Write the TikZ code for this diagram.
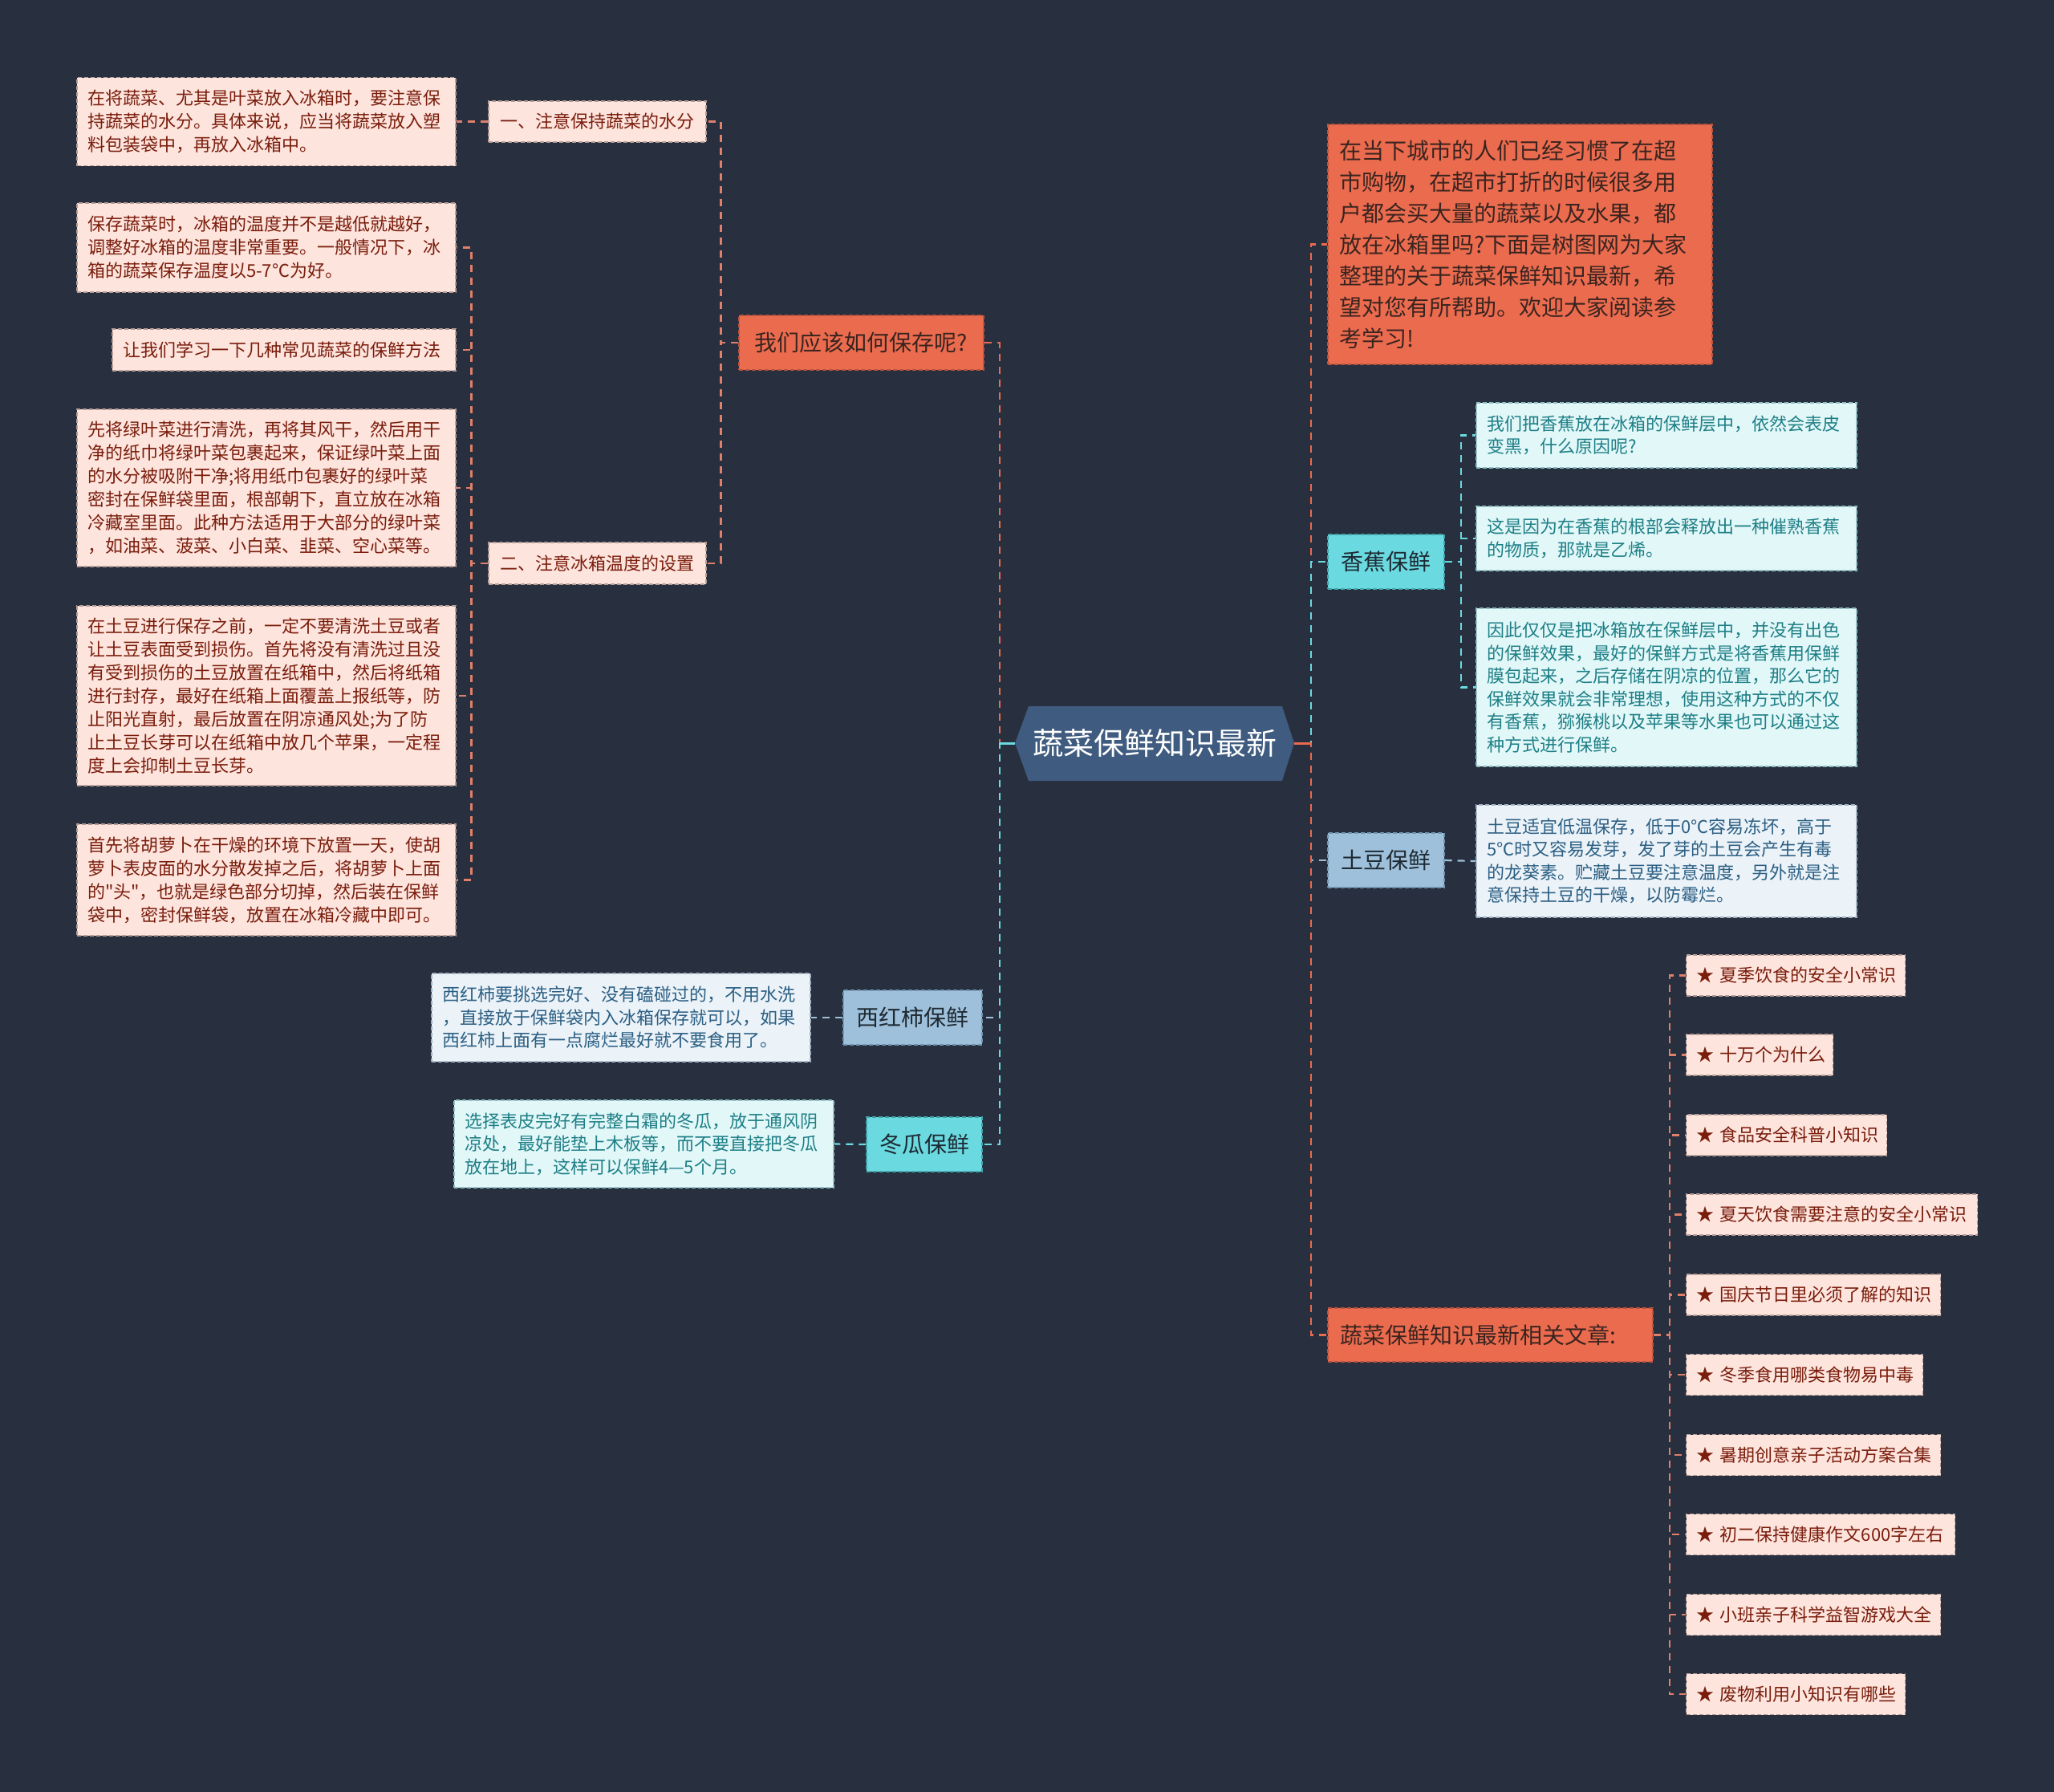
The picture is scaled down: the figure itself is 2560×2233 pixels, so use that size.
\documentclass[tikz,border=0pt]{standalone}
\usepackage{fontspec}
\setmainfont{Noto Sans CJK SC}[Ligatures=TeXOff]
\definecolor{bg}{HTML}{282F3E}
\definecolor{ctrfill}{HTML}{3F5B7F}
\definecolor{orng}{HTML}{EB6B4E}
\definecolor{orngb}{HTML}{B9533D}
\definecolor{cyn}{HTML}{6BD9E0}
\definecolor{cynb}{HTML}{3FA3A9}
\definecolor{lblu}{HTML}{9EC0DA}
\definecolor{lblub}{HTML}{6F93B0}
\definecolor{pink}{HTML}{FDE4DD}
\definecolor{pinkb}{HTML}{B59C96}
\definecolor{pinktx}{HTML}{7A1D0C}
\definecolor{lcyn}{HTML}{E1F7F8}
\definecolor{lcynb}{HTML}{8FBFC3}
\definecolor{lcyntx}{HTML}{1E7F86}
\definecolor{lbl}{HTML}{EBF2F8}
\definecolor{lblb}{HTML}{9FB3C4}
\definecolor{lbltx}{HTML}{2B5F83}
\definecolor{darktx}{HTML}{3A2420}
\definecolor{darkbl}{HTML}{1E2A33}
\definecolor{consal}{HTML}{E07F6A}
\tikzset{
  box/.style={draw, dash pattern=on 5pt off 3pt, line width=1.2pt, inner sep=0pt, align=center},
  tbox/.style={box, align=left, inner xsep=13pt, inner ysep=0pt},
  pinkbox/.style={tbox, fill=pink, draw=pinkb, text=pinktx, font=\fontsize{22}{29}\selectfont},
  pinklbl/.style={box, fill=pink, draw=pinkb, text=pinktx, font=\fontsize{22}{29}\selectfont},
  cynbox/.style={tbox, fill=lcyn, draw=lcynb, text=lcyntx, font=\fontsize{22}{28.5}\selectfont},
  lblbox/.style={tbox, fill=lbl, draw=lblb, text=lbltx, font=\fontsize{22}{28.5}\selectfont},
  orlvl/.style={box, fill=orng, draw=orngb, text=darktx, font=\fontsize{28}{34}\selectfont},
  cylvl/.style={box, fill=cyn, draw=cynb, text=darkbl, font=\fontsize{28}{34}\selectfont},
  bllvl/.style={box, fill=lblu, draw=lblub, text=darkbl, font=\fontsize{28}{34}\selectfont},
  item/.style={tbox, anchor=west, fill=pink, draw=pinkb, text=pinktx, minimum height=51, font=\fontsize{22}{29}\selectfont},
  con/.style={line width=2.2pt, dash pattern=on 9pt off 7pt},
  conO/.style={con, draw=orng},
  conC/.style={con, draw=cyn},
  conB/.style={con, draw=lblu},
  conS/.style={con, draw=consal},
}
\begin{document}
\begin{tikzpicture}[x=1pt,y=-1pt]
\fill[bg] (0,0) rectangle (2560,2233);
\useasboundingbox (0,0) rectangle (2560,2233);

% center
\fill[ctrfill] (1265,926) -- (1282,880) -- (1598,880) -- (1613,926) -- (1598,973) -- (1282,973) -- cycle;
\node[inner sep=0pt, minimum width=348, minimum height=93, text=white, font=\fontsize{38}{44}\selectfont] (ctr) at (1439,926.5) {蔬菜保鲜知识最新};

% left level 1
\node[orlvl, minimum width=305, minimum height=68] (wm) at (1073.5,427) {我们应该如何保存呢?};
\node[bllvl, minimum width=173, minimum height=68] (xh) at (1137.5,1268) {西红柿保鲜};
\node[cylvl, minimum width=144, minimum height=68] (dg) at (1152,1426) {冬瓜保鲜};

% left level 2
\node[pinklbl, minimum width=271, minimum height=51] (n1) at (744.5,151.5) {一、注意保持蔬菜的水分};
\node[pinklbl, minimum width=271, minimum height=52] (n2) at (744.5,702) {二、注意冰箱温度的设置};

% left leaves
\node[pinkbox, text width=446, minimum height=110] (b1) at (332,151.5) {在将蔬菜、尤其是叶菜放入冰箱时，要注意保\\持蔬菜的水分。具体来说，应当将蔬菜放入塑\\料包装袋中，再放入冰箱中。};
\node[pinkbox, text width=446, minimum height=111] (b2) at (332,308.5) {保存蔬菜时，冰箱的温度并不是越低就越好，\\调整好冰箱的温度非常重要。一般情况下，冰\\箱的蔬菜保存温度以5-7℃为好。};
\node[pinkbox, text width=402, minimum height=52] (b3) at (354,436) {让我们学习一下几种常见蔬菜的保鲜方法};
\node[pinkbox, text width=446, minimum height=196] (b4) at (332,608) {先将绿叶菜进行清洗，再将其风干，然后用干\\净的纸巾将绿叶菜包裹起来，保证绿叶菜上面\\的水分被吸附干净;将用纸巾包裹好的绿叶菜\\密封在保鲜袋里面，根部朝下，直立放在冰箱\\冷藏室里面。此种方法适用于大部分的绿叶菜\\，如油菜、菠菜、小白菜、韭菜、空心菜等。};
\node[pinkbox, text width=446, minimum height=224] (b5) at (332,867) {在土豆进行保存之前，一定不要清洗土豆或者\\让土豆表面受到损伤。首先将没有清洗过且没\\有受到损伤的土豆放置在纸箱中，然后将纸箱\\进行封存，最好在纸箱上面覆盖上报纸等，防\\止阳光直射，最后放置在阴凉通风处;为了防\\止土豆长芽可以在纸箱中放几个苹果，一定程\\度上会抑制土豆长芽。};
\node[pinkbox, text width=446, minimum height=139] (b6) at (332,1096.5) {首先将胡萝卜在干燥的环境下放置一天，使胡\\萝卜表皮面的水分散发掉之后，将胡萝卜上面\\的"头"，也就是绿色部分切掉，然后装在保鲜\\袋中，密封保鲜袋，放置在冰箱冷藏中即可。};
\node[lblbox, text width=446, minimum height=110] (xt) at (774,1268) {西红柿要挑选完好、没有磕碰过的，不用水洗\\，直接放于保鲜袋内入冰箱保存就可以，如果\\西红柿上面有一点腐烂最好就不要食用了。};
\node[cynbox, text width=447, minimum height=109] (dt) at (802.5,1425.5) {选择表皮完好有完整白霜的冬瓜，放于通风阴\\凉处，最好能垫上木板等，而不要直接把冬瓜\\放在地上，这样可以保鲜4—5个月。};

% right level 1
\node[tbox, fill=orng, draw=orngb, text=darktx, inner xsep=14pt, text width=451, minimum height=299, font=\fontsize{28}{39}\selectfont] (intro) at (1894.5,304.5) {在当下城市的人们已经习惯了在超\\市购物，在超市打折的时候很多用\\户都会买大量的蔬菜以及水果，都\\放在冰箱里吗?下面是树图网为大家\\整理的关于蔬菜保鲜知识最新，希\\望对您有所帮助。欢迎大家阅读参\\考学习!};
\node[cylvl, minimum width=145, minimum height=68] (xj) at (1727.5,700) {香蕉保鲜};
\node[bllvl, minimum width=145, minimum height=68] (td) at (1727.5,1072) {土豆保鲜};
\node[orlvl, align=left, inner xsep=15pt, text width=375, minimum height=67] (rel) at (1857.5,1663.5) {蔬菜保鲜知识最新相关文章:};

% right leaves
\node[cynbox, text width=448, minimum height=81] (j1) at (2077,542.5) {我们把香蕉放在冰箱的保鲜层中，依然会表皮\\变黑，什么原因呢?};
\node[cynbox, text width=448, minimum height=80] (j2) at (2077,671) {这是因为在香蕉的根部会释放出一种催熟香蕉\\的物质，那就是乙烯。};
\node[cynbox, text width=448, minimum height=197] (j3) at (2077,856.5) {因此仅仅是把冰箱放在保鲜层中，并没有出色\\的保鲜效果，最好的保鲜方式是将香蕉用保鲜\\膜包起来，之后存储在阴凉的位置，那么它的\\保鲜效果就会非常理想，使用这种方式的不仅\\有香蕉，猕猴桃以及苹果等水果也可以通过这\\种方式进行保鲜。};
\node[lblbox, text width=448, minimum height=140] (tt) at (2077,1073) {土豆适宜低温保存，低于0℃容易冻坏，高于\\5℃时又容易发芽，发了芽的土豆会产生有毒\\的龙葵素。贮藏土豆要注意温度，另外就是注\\意保持土豆的干燥，以防霉烂。};

\node[item, text width=247] (r1) at (2101,1215.5) {★~夏季饮食的安全小常识};
\node[item, text width=157] (r2) at (2101,1314.5) {★~十万个为什么};
\node[item, text width=224] (r3) at (2101,1414.5) {★~食品安全科普小知识};
\node[item, text width=337] (r4) at (2101,1513.5) {★~夏天饮食需要注意的安全小常识};
\node[item, text width=291] (r5) at (2101,1613.5) {★~国庆节日里必须了解的知识};
\node[item, text width=269] (r6) at (2101,1713) {★~冬季食用哪类食物易中毒};
\node[item, text width=291] (r7) at (2101,1813) {★~暑期创意亲子活动方案合集};
\node[item, text width=309] (r8) at (2101,1912) {★~初二保持健康作文600字左右};
\node[item, text width=291] (r9) at (2101,2012) {★~小班亲子科学益智游戏大全};
\node[item, text width=247] (r10) at (2101,2111) {★~废物利用小知识有哪些};

% connectors: center
\draw[conO] (ctr.west) -- ++(-19,0) |- (wm.east);
\draw[conB] (ctr.west) -- ++(-19,0) |- (xh.east);
\draw[conC] (ctr.west) -- ++(-19,0) |- (dg.east);
\draw[conO] (ctr.east) -- ++(21,0) |- (intro.west);
\draw[conC] (ctr.east) -- ++(21,0) |- (xj.west);
\draw[conB] (ctr.east) -- ++(21,0) |- (td.west);
\draw[conO] (ctr.east) -- ++(21,0) |- (rel.west);
\draw[cyn, line width=2.2pt] (ctr.west) -- ++(-19,0);
\draw[orng, line width=2.2pt] (ctr.east) -- ++(21,0);

% left subtrees
\draw[conS] (wm.west) -- ++(-22,0) |- (n1.east);
\draw[conS] (wm.west) -- ++(-22,0) |- (n2.east);
\draw[conS] (n1.west) -- (b1.east);
\foreach \b in {b2,b3,b4,b5,b6}
  \draw[conS] (n2.west) -- ++(-21,0) |- (\b.east);
\draw[conB] (xh.west) -- (xt.east);
\draw[conC] (dg.west) -- (dt.east);

% right subtrees
\foreach \b in {j1,j2,j3}
  \draw[conC] (xj.east) -- ++(20,0) |- (\b.west);
\draw[conB] (td.east) -- (tt.west);
\foreach \b in {r1,r2,r3,r4,r5,r6,r7,r8,r9,r10}
  \draw[conS] (rel.east) -- ++(20,0) |- (\b.west);
\end{tikzpicture}
\end{document}
